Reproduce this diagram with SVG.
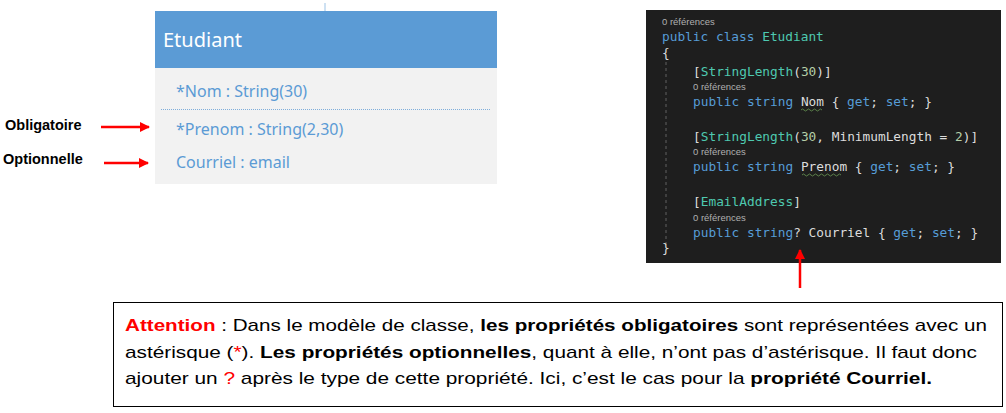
<svg xmlns="http://www.w3.org/2000/svg" width="1006" height="413" viewBox="0 0 1006 413">
<defs>
<marker id="ah" viewBox="0 0 10 10" refX="9" refY="5" markerWidth="4" markerHeight="4" orient="auto" markerUnits="strokeWidth"><path d="M0,0 L10,5 L0,10 z" fill="#FF0000"/></marker>
<style>
.cls{font-family:"Noto Sans","Open Sans",sans-serif;font-size:16px;fill:#5B9BD5}
.lbl{font-family:"Liberation Sans",Arial,sans-serif;font-size:14.5px;font-weight:bold;fill:#000}
.code{font-family:"DejaVu Sans Mono","Liberation Mono",monospace;font-size:12.8px;fill:#DCDCDC}
.ref{font-family:"Liberation Sans",Arial,sans-serif;font-size:9.5px;fill:#B0B0B0}
.kw{fill:#569CD6}.ty{fill:#4EC9B0}.nu{fill:#B5CEA8}
.note{font-family:"Liberation Sans",Arial,sans-serif;font-size:17px;fill:#000}
.b{font-weight:bold}.r{fill:#FF0000}
.arr{stroke:#FF0000;stroke-width:2.5;fill:none;marker-end:url(#ah)}
</style>
</defs>
<rect width="1006" height="413" fill="#FFFFFF"/>
<g id="class-etudiant">
<line x1="325" y1="3" x2="325" y2="11" stroke="#9DC3E6" stroke-width="1"/>
<rect x="155" y="11" width="342" height="57" fill="#5B9BD5"/>
<rect x="155" y="68" width="342" height="116" fill="#F2F2F2"/>
<text x="163" y="47" font-family="Noto Sans,Open Sans,sans-serif" font-size="20" fill="#FFFFFF">Etudiant</text>
<text class="cls" x="176" y="97">*Nom : String(30)</text>
<line x1="161" y1="109.5" x2="491" y2="109.5" stroke="#7FAEDB" stroke-width="1" stroke-dasharray="1,1"/>
<text class="cls" x="176" y="135">*Prenom : String(2,30)</text>
<text class="cls" x="176" y="168">Courriel : email</text>
</g>
<g id="label-obligatoire"><text class="lbl" x="5" y="130">Obligatoire</text></g>
<g id="label-optionnelle"><text class="lbl" x="3" y="164">Optionnelle</text></g>
<g id="code-panel">
<rect x="646" y="10" width="355" height="253" fill="#1E1E1E"/>
<line x1="666" y1="62" x2="666" y2="248" stroke="#606060" stroke-width="1" stroke-dasharray="3,3"/>
<text class="ref" x="662" y="25">0 références</text>
<text class="code" x="662" y="41"><tspan class="kw">public class</tspan> <tspan class="ty">Etudiant</tspan></text>
<text class="code" x="662" y="57">{</text>
<text class="code" x="693" y="76">[<tspan class="ty">StringLength</tspan>(<tspan class="nu">30</tspan>)]</text>
<text class="ref" x="693" y="90">0 références</text>
<text class="code" x="693" y="106"><tspan class="kw">public string</tspan> Nom { <tspan class="kw">get</tspan>; <tspan class="kw">set</tspan>; }</text>
<path d="M801,110 q1.5,-2 3,0 t3,0 t3,0 t3,0 t3,0 t3,0 t3,0" stroke="#6A9955" stroke-width="0.8" fill="none"/>
<text class="code" x="693" y="141">[<tspan class="ty">StringLength</tspan>(<tspan class="nu">30</tspan>, MinimumLength = <tspan class="nu">2</tspan>)]</text>
<text class="ref" x="693" y="155">0 références</text>
<text class="code" x="693" y="171"><tspan class="kw">public string</tspan> Prenom { <tspan class="kw">get</tspan>; <tspan class="kw">set</tspan>; }</text>
<path d="M802,175 q1.5,-2 3,0 t3,0 t3,0 t3,0 t3,0 t3,0 t3,0 t3,0 t3,0 t3,0 t3,0 t3,0 t3,0" stroke="#6A9955" stroke-width="0.8" fill="none"/>
<text class="code" x="693" y="206">[<tspan class="ty">EmailAddress</tspan>]</text>
<text class="ref" x="693" y="221">0 références</text>
<text class="code" x="693" y="237"><tspan class="kw">public string</tspan>? Courriel { <tspan class="kw">get</tspan>; <tspan class="kw">set</tspan>; }</text>
<text class="code" x="662" y="252">}</text>
</g>
<g id="connectors">
<line class="arr" x1="101" y1="127" x2="149" y2="127"/>
<line class="arr" x1="104" y1="163" x2="148" y2="163"/>
<line class="arr" x1="800" y1="288" x2="800" y2="250"/>
</g>
<g id="note">
<rect x="113.5" y="302.5" width="889" height="104" fill="#FFFFFF" stroke="#000000" stroke-width="1"/>
<text class="note" x="125" y="331" textLength="862" lengthAdjust="spacingAndGlyphs"><tspan class="b r">Attention</tspan> : Dans le modèle de classe, <tspan class="b">les propriétés obligatoires</tspan> sont représentées avec un</text>
<text class="note" x="125" y="358" textLength="852" lengthAdjust="spacingAndGlyphs">astérisque (<tspan class="r">*</tspan>). <tspan class="b">Les propriétés optionnelles</tspan>, quant à elle, n’ont pas d’astérisque. Il faut donc</text>
<text class="note" x="125" y="384" textLength="807" lengthAdjust="spacingAndGlyphs">ajouter un <tspan class="r">?</tspan> après le type de cette propriété. Ici, c’est le cas pour la <tspan class="b">propriété Courriel.</tspan></text>
</g>
</svg>
